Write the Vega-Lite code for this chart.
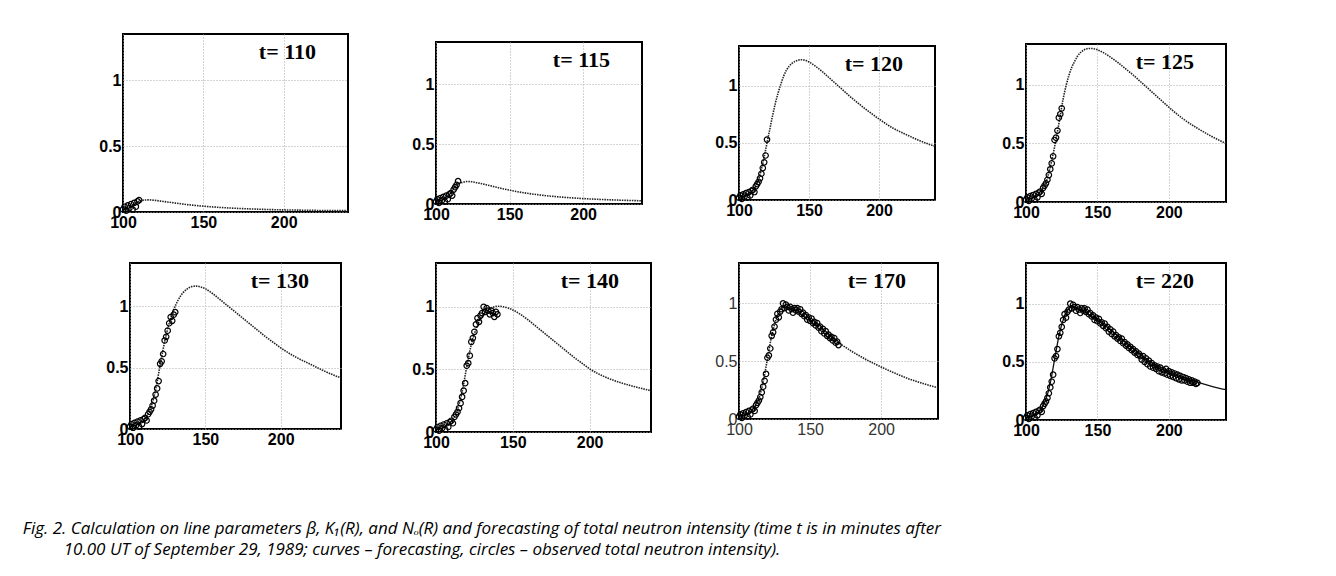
{
"$schema": "https://vega.github.io/schema/vega-lite/v6.json",
"background": "white",
"padding": {"left": 22, "top": 33, "right": 10, "bottom": 10},
"datasets": {
"obs": [
{"t":100,"v":0.02},{"t":101,"v":0.04},{"t":102,"v":0.01},{"t":103,"v":0.05},{"t":104,"v":0.03},{"t":105,"v":0.06},{"t":106,"v":0.02},{"t":107,"v":0.07},{"t":108,"v":0.04},{"t":109,"v":0.08},
{"t":110,"v":0.09},{"t":111,"v":0.07},{"t":112,"v":0.12},{"t":113,"v":0.14},{"t":114,"v":0.16},{"t":115,"v":0.19},{"t":116,"v":0.23},{"t":117,"v":0.28},{"t":118,"v":0.33},{"t":119,"v":0.39},
{"t":120,"v":0.53},{"t":121,"v":0.55},{"t":122,"v":0.61},{"t":123,"v":0.72},{"t":124,"v":0.75},{"t":125,"v":0.80},{"t":126,"v":0.86},{"t":127,"v":0.91},{"t":128,"v":0.88},{"t":129,"v":0.93},
{"t":130,"v":0.95},{"t":131,"v":1.0},{"t":132,"v":0.96},{"t":133,"v":0.99},{"t":134,"v":0.97},{"t":135,"v":0.94},{"t":136,"v":0.97},{"t":137,"v":0.95},{"t":138,"v":0.92},{"t":139,"v":0.96},
{"t":140,"v":0.94},{"t":141,"v":0.96},{"t":142,"v":0.93},{"t":143,"v":0.95},{"t":144,"v":0.91},{"t":145,"v":0.92},{"t":146,"v":0.89},{"t":147,"v":0.90},{"t":148,"v":0.86},{"t":149,"v":0.88},
{"t":150,"v":0.85},{"t":151,"v":0.87},{"t":152,"v":0.83},{"t":153,"v":0.84},{"t":154,"v":0.81},{"t":155,"v":0.83},{"t":156,"v":0.79},{"t":157,"v":0.80},{"t":158,"v":0.76},{"t":159,"v":0.78},
{"t":160,"v":0.74},{"t":161,"v":0.76},{"t":162,"v":0.72},{"t":163,"v":0.73},{"t":164,"v":0.70},{"t":165,"v":0.71},{"t":166,"v":0.68},{"t":167,"v":0.70},{"t":168,"v":0.66},{"t":169,"v":0.67},
{"t":170,"v":0.64},{"t":171,"v":0.65},{"t":172,"v":0.62},{"t":173,"v":0.63},{"t":174,"v":0.60},{"t":175,"v":0.61},{"t":176,"v":0.58},{"t":177,"v":0.59},{"t":178,"v":0.56},{"t":179,"v":0.57},
{"t":180,"v":0.55},{"t":181,"v":0.52},{"t":182,"v":0.55},{"t":183,"v":0.50},{"t":184,"v":0.53},{"t":185,"v":0.48},{"t":186,"v":0.51},{"t":187,"v":0.46},{"t":188,"v":0.49},{"t":189,"v":0.45},
{"t":190,"v":0.47},{"t":191,"v":0.44},{"t":192,"v":0.46},{"t":193,"v":0.42},{"t":194,"v":0.45},{"t":195,"v":0.41},{"t":196,"v":0.43},{"t":197,"v":0.40},{"t":198,"v":0.44},{"t":199,"v":0.39},
{"t":200,"v":0.42},{"t":201,"v":0.38},{"t":202,"v":0.41},{"t":203,"v":0.37},{"t":204,"v":0.40},{"t":205,"v":0.36},{"t":206,"v":0.39},{"t":207,"v":0.35},{"t":208,"v":0.38},{"t":209,"v":0.34},
{"t":210,"v":0.37},{"t":211,"v":0.34},{"t":212,"v":0.36},{"t":213,"v":0.33},{"t":214,"v":0.35},{"t":215,"v":0.32},{"t":216,"v":0.34},{"t":217,"v":0.32},{"t":218,"v":0.33},{"t":219,"v":0.31},
{"t":220,"v":0.32}
],
"fc": [
{"p":110,"t":100,"v":0.005},{"p":110,"t":102,"v":0.015},{"p":110,"t":104,"v":0.03},{"p":110,"t":106,"v":0.05},{"p":110,"t":108,"v":0.07},{"p":110,"t":110,"v":0.082},{"p":110,"t":113,"v":0.09},{"p":110,"t":116,"v":0.092},{"p":110,"t":120,"v":0.088},{"p":110,"t":125,"v":0.08},{"p":110,"t":130,"v":0.072},{"p":110,"t":135,"v":0.064},{"p":110,"t":140,"v":0.056},{"p":110,"t":150,"v":0.044},{"p":110,"t":160,"v":0.035},{"p":110,"t":170,"v":0.028},{"p":110,"t":180,"v":0.023},{"p":110,"t":190,"v":0.019},{"p":110,"t":200,"v":0.016},{"p":110,"t":210,"v":0.014},{"p":110,"t":220,"v":0.012},{"p":110,"t":230,"v":0.011},{"p":110,"t":240,"v":0.01},
{"p":115,"t":100,"v":0.01},{"p":115,"t":103,"v":0.025},{"p":115,"t":106,"v":0.05},{"p":115,"t":109,"v":0.085},{"p":115,"t":112,"v":0.13},{"p":115,"t":115,"v":0.165},{"p":115,"t":118,"v":0.18},{"p":115,"t":121,"v":0.187},{"p":115,"t":124,"v":0.186},{"p":115,"t":127,"v":0.18},{"p":115,"t":130,"v":0.172},{"p":115,"t":135,"v":0.158},{"p":115,"t":140,"v":0.143},{"p":115,"t":145,"v":0.128},{"p":115,"t":150,"v":0.115},{"p":115,"t":160,"v":0.093},{"p":115,"t":170,"v":0.076},{"p":115,"t":180,"v":0.063},{"p":115,"t":190,"v":0.053},{"p":115,"t":200,"v":0.045},{"p":115,"t":210,"v":0.039},{"p":115,"t":220,"v":0.034},{"p":115,"t":230,"v":0.03},{"p":115,"t":240,"v":0.027},
{"p":120,"t":100,"v":0.02},{"p":120,"t":104,"v":0.03},{"p":120,"t":108,"v":0.06},{"p":120,"t":111,"v":0.1},{"p":120,"t":114,"v":0.18},{"p":120,"t":116,"v":0.27},{"p":120,"t":118,"v":0.38},{"p":120,"t":120,"v":0.5},{"p":120,"t":122,"v":0.62},{"p":120,"t":124,"v":0.74},{"p":120,"t":126,"v":0.85},{"p":120,"t":128,"v":0.94},{"p":120,"t":130,"v":1.02},{"p":120,"t":132,"v":1.09},{"p":120,"t":134,"v":1.14},{"p":120,"t":136,"v":1.175},{"p":120,"t":138,"v":1.2},{"p":120,"t":140,"v":1.215},{"p":120,"t":142,"v":1.225},{"p":120,"t":144,"v":1.23},{"p":120,"t":146,"v":1.228},{"p":120,"t":148,"v":1.222},{"p":120,"t":150,"v":1.21},{"p":120,"t":155,"v":1.17},{"p":120,"t":160,"v":1.12},{"p":120,"t":165,"v":1.065},{"p":120,"t":170,"v":1.01},{"p":120,"t":175,"v":0.955},{"p":120,"t":180,"v":0.9},{"p":120,"t":185,"v":0.85},{"p":120,"t":190,"v":0.8},{"p":120,"t":195,"v":0.755},{"p":120,"t":200,"v":0.71},{"p":120,"t":210,"v":0.63},{"p":120,"t":220,"v":0.57},{"p":120,"t":230,"v":0.515},{"p":120,"t":240,"v":0.47},
{"p":125,"t":100,"v":0.02},{"p":125,"t":104,"v":0.03},{"p":125,"t":108,"v":0.06},{"p":125,"t":111,"v":0.1},{"p":125,"t":114,"v":0.17},{"p":125,"t":117,"v":0.3},{"p":125,"t":120,"v":0.47},{"p":125,"t":122,"v":0.6},{"p":125,"t":124,"v":0.74},{"p":125,"t":126,"v":0.88},{"p":125,"t":128,"v":0.99},{"p":125,"t":130,"v":1.08},{"p":125,"t":132,"v":1.15},{"p":125,"t":134,"v":1.2},{"p":125,"t":136,"v":1.245},{"p":125,"t":138,"v":1.275},{"p":125,"t":140,"v":1.295},{"p":125,"t":142,"v":1.307},{"p":125,"t":144,"v":1.312},{"p":125,"t":146,"v":1.312},{"p":125,"t":148,"v":1.308},{"p":125,"t":150,"v":1.3},{"p":125,"t":155,"v":1.27},{"p":125,"t":160,"v":1.23},{"p":125,"t":165,"v":1.185},{"p":125,"t":170,"v":1.135},{"p":125,"t":175,"v":1.085},{"p":125,"t":180,"v":1.03},{"p":125,"t":185,"v":0.975},{"p":125,"t":190,"v":0.92},{"p":125,"t":195,"v":0.865},{"p":125,"t":200,"v":0.81},{"p":125,"t":210,"v":0.71},{"p":125,"t":220,"v":0.63},{"p":125,"t":230,"v":0.56},{"p":125,"t":240,"v":0.5},
{"p":130,"t":100,"v":0.02},{"p":130,"t":104,"v":0.03},{"p":130,"t":108,"v":0.06},{"p":130,"t":111,"v":0.1},{"p":130,"t":114,"v":0.18},{"p":130,"t":117,"v":0.32},{"p":130,"t":120,"v":0.52},{"p":130,"t":123,"v":0.71},{"p":130,"t":126,"v":0.86},{"p":130,"t":129,"v":0.97},{"p":130,"t":132,"v":1.05},{"p":130,"t":135,"v":1.105},{"p":130,"t":138,"v":1.14},{"p":130,"t":141,"v":1.158},{"p":130,"t":144,"v":1.162},{"p":130,"t":147,"v":1.155},{"p":130,"t":150,"v":1.14},{"p":130,"t":155,"v":1.1},{"p":130,"t":160,"v":1.05},{"p":130,"t":165,"v":1.0},{"p":130,"t":170,"v":0.95},{"p":130,"t":175,"v":0.9},{"p":130,"t":180,"v":0.85},{"p":130,"t":185,"v":0.8},{"p":130,"t":190,"v":0.75},{"p":130,"t":195,"v":0.705},{"p":130,"t":200,"v":0.66},{"p":130,"t":210,"v":0.585},{"p":130,"t":220,"v":0.525},{"p":130,"t":230,"v":0.465},{"p":130,"t":240,"v":0.415},
{"p":140,"t":100,"v":0.02},{"p":140,"t":104,"v":0.03},{"p":140,"t":108,"v":0.06},{"p":140,"t":111,"v":0.1},{"p":140,"t":114,"v":0.18},{"p":140,"t":117,"v":0.32},{"p":140,"t":120,"v":0.52},{"p":140,"t":123,"v":0.7},{"p":140,"t":126,"v":0.82},{"p":140,"t":129,"v":0.9},{"p":140,"t":132,"v":0.955},{"p":140,"t":135,"v":0.985},{"p":140,"t":138,"v":1.0},{"p":140,"t":141,"v":1.005},{"p":140,"t":144,"v":1.0},{"p":140,"t":147,"v":0.99},{"p":140,"t":150,"v":0.975},{"p":140,"t":155,"v":0.94},{"p":140,"t":160,"v":0.895},{"p":140,"t":165,"v":0.845},{"p":140,"t":170,"v":0.795},{"p":140,"t":175,"v":0.745},{"p":140,"t":180,"v":0.695},{"p":140,"t":185,"v":0.645},{"p":140,"t":190,"v":0.595},{"p":140,"t":195,"v":0.55},{"p":140,"t":200,"v":0.505},{"p":140,"t":210,"v":0.44},{"p":140,"t":220,"v":0.395},{"p":140,"t":230,"v":0.36},{"p":140,"t":240,"v":0.33},
{"p":170,"t":100,"v":0.02},{"p":170,"t":104,"v":0.03},{"p":170,"t":108,"v":0.06},{"p":170,"t":111,"v":0.1},{"p":170,"t":114,"v":0.18},{"p":170,"t":117,"v":0.32},{"p":170,"t":120,"v":0.52},{"p":170,"t":123,"v":0.72},{"p":170,"t":126,"v":0.86},{"p":170,"t":129,"v":0.94},{"p":170,"t":132,"v":0.975},{"p":170,"t":135,"v":0.97},{"p":170,"t":140,"v":0.935},{"p":170,"t":145,"v":0.895},{"p":170,"t":150,"v":0.855},{"p":170,"t":155,"v":0.81},{"p":170,"t":160,"v":0.76},{"p":170,"t":165,"v":0.71},{"p":170,"t":170,"v":0.66},{"p":170,"t":175,"v":0.62},{"p":170,"t":180,"v":0.58},{"p":170,"t":185,"v":0.545},{"p":170,"t":190,"v":0.51},{"p":170,"t":195,"v":0.48},{"p":170,"t":200,"v":0.45},{"p":170,"t":210,"v":0.395},{"p":170,"t":220,"v":0.345},{"p":170,"t":230,"v":0.305},{"p":170,"t":240,"v":0.27},
{"p":220,"t":100,"v":0.02},{"p":220,"t":104,"v":0.03},{"p":220,"t":108,"v":0.06},{"p":220,"t":111,"v":0.1},{"p":220,"t":114,"v":0.18},{"p":220,"t":117,"v":0.32},{"p":220,"t":120,"v":0.52},{"p":220,"t":123,"v":0.72},{"p":220,"t":126,"v":0.86},{"p":220,"t":129,"v":0.94},{"p":220,"t":132,"v":0.975},{"p":220,"t":135,"v":0.965},{"p":220,"t":140,"v":0.935},{"p":220,"t":145,"v":0.9},{"p":220,"t":150,"v":0.86},{"p":220,"t":155,"v":0.815},{"p":220,"t":160,"v":0.765},{"p":220,"t":165,"v":0.715},{"p":220,"t":170,"v":0.665},{"p":220,"t":175,"v":0.615},{"p":220,"t":180,"v":0.565},{"p":220,"t":185,"v":0.52},{"p":220,"t":190,"v":0.48},{"p":220,"t":195,"v":0.45},{"p":220,"t":200,"v":0.42},{"p":220,"t":205,"v":0.395},{"p":220,"t":210,"v":0.37},{"p":220,"t":215,"v":0.345},{"p":220,"t":220,"v":0.325},{"p":220,"t":230,"v":0.29},{"p":220,"t":240,"v":0.26}
]
},
"title": {"text": "10.00 UT of September 29, 1989; curves – forecasting, circles – observed total neutron intensity).", "orient": "bottom", "anchor": "start", "frame": "bounds", "font": "Open Sans", "fontStyle": "italic", "fontWeight": "normal", "fontSize": 17, "color": "black", "dx": 41, "dy": 0, "offset": 13, "baseline": "middle"},
"vconcat": [
{
"columns": 4,
"spacing": {"row": 51, "column": 88},
"bounds": "flush",
"center": true,
"title": {"text": "Fig. 2. Calculation on line parameters β, K₁(R), and Nₒ(R) and forecasting of total neutron intensity (time t is in minutes after", "orient": "bottom", "anchor": "start", "frame": "bounds", "font": "Open Sans", "fontStyle": "italic", "fontWeight": "normal", "fontSize": 17, "color": "black", "dx": -75, "dy": 0, "offset": 78, "baseline": "middle"},
"concat": [
{"width": 225, "height": 178, "title": {"text": "t= 110"},
 "encoding": {"x": {"field": "t", "type": "quantitative", "scale": {"domain": [100, 240], "nice": false, "zero": false}, "axis": {"values": [100, 150, 200], "title": null}}, "y": {"field": "v", "type": "quantitative", "scale": {"domain": [0, 1.35], "nice": false}, "axis": {"values": [0, 0.5, 1], "format": "~g", "title": null}}},
 "layer": [
  {"data": {"name": "fc"}, "transform": [{"filter": "datum.p == 110"}], "mark": {"type": "line", "interpolate": "monotone", "strokeDash": [1.5, 1], "strokeWidth": 1.6, "color": "#222"}},
  {"data": {"name": "obs"}, "transform": [{"filter": "datum.t <= 110"}], "mark": {"type": "point", "shape": "circle", "filled": false, "color": "black", "size": 30, "strokeWidth": 1.2, "opacity": 1}}
 ]},
{"width": 206, "height": 162, "title": {"text": "t= 115"},
 "encoding": {"x": {"field": "t", "type": "quantitative", "scale": {"domain": [100, 240], "nice": false, "zero": false}, "axis": {"values": [100, 150, 200], "title": null}}, "y": {"field": "v", "type": "quantitative", "scale": {"domain": [0, 1.35], "nice": false}, "axis": {"values": [0, 0.5, 1], "format": "~g", "title": null}}},
 "layer": [
  {"data": {"name": "fc"}, "transform": [{"filter": "datum.p == 115"}], "mark": {"type": "line", "interpolate": "monotone", "strokeDash": [1.5, 1], "strokeWidth": 1.6, "color": "#222"}},
  {"data": {"name": "obs"}, "transform": [{"filter": "datum.t <= 115"}], "mark": {"type": "point", "shape": "circle", "filled": false, "color": "black", "size": 30, "strokeWidth": 1.2, "opacity": 1}}
 ]},
{"width": 196, "height": 154, "title": {"text": "t= 120"},
 "encoding": {"x": {"field": "t", "type": "quantitative", "scale": {"domain": [100, 240], "nice": false, "zero": false}, "axis": {"values": [100, 150, 200], "title": null}}, "y": {"field": "v", "type": "quantitative", "scale": {"domain": [0, 1.35], "nice": false}, "axis": {"values": [0, 0.5, 1], "format": "~g", "title": null}}},
 "layer": [
  {"data": {"name": "fc"}, "transform": [{"filter": "datum.p == 120"}], "mark": {"type": "line", "interpolate": "monotone", "strokeDash": [1.5, 1], "strokeWidth": 1.6, "color": "#222"}},
  {"data": {"name": "obs"}, "transform": [{"filter": "datum.t <= 120"}], "mark": {"type": "point", "shape": "circle", "filled": false, "color": "black", "size": 30, "strokeWidth": 1.2, "opacity": 1}}
 ]},
{"width": 200, "height": 158, "title": {"text": "t= 125"},
 "encoding": {"x": {"field": "t", "type": "quantitative", "scale": {"domain": [100, 240], "nice": false, "zero": false}, "axis": {"values": [100, 150, 200], "title": null}}, "y": {"field": "v", "type": "quantitative", "scale": {"domain": [0, 1.35], "nice": false}, "axis": {"values": [0, 0.5, 1], "format": "~g", "title": null}}},
 "layer": [
  {"data": {"name": "fc"}, "transform": [{"filter": "datum.p == 125"}], "mark": {"type": "line", "interpolate": "monotone", "strokeDash": [1.5, 1], "strokeWidth": 1.6, "color": "#222"}},
  {"data": {"name": "obs"}, "transform": [{"filter": "datum.t <= 125"}], "mark": {"type": "point", "shape": "circle", "filled": false, "color": "black", "size": 30, "strokeWidth": 1.2, "opacity": 1}}
 ]},
{"width": 211, "height": 166, "title": {"text": "t= 130"},
 "encoding": {"x": {"field": "t", "type": "quantitative", "scale": {"domain": [100, 240], "nice": false, "zero": false}, "axis": {"values": [100, 150, 200], "title": null}}, "y": {"field": "v", "type": "quantitative", "scale": {"domain": [0, 1.35], "nice": false}, "axis": {"values": [0, 0.5, 1], "format": "~g", "title": null}}},
 "layer": [
  {"data": {"name": "fc"}, "transform": [{"filter": "datum.p == 130"}], "mark": {"type": "line", "interpolate": "monotone", "strokeDash": [1.5, 1], "strokeWidth": 1.6, "color": "#222"}},
  {"data": {"name": "obs"}, "transform": [{"filter": "datum.t <= 130"}], "mark": {"type": "point", "shape": "circle", "filled": false, "color": "black", "size": 30, "strokeWidth": 1.2, "opacity": 1}}
 ]},
{"width": 215, "height": 169, "title": {"text": "t= 140"},
 "encoding": {"x": {"field": "t", "type": "quantitative", "scale": {"domain": [100, 240], "nice": false, "zero": false}, "axis": {"values": [100, 150, 200], "title": null}}, "y": {"field": "v", "type": "quantitative", "scale": {"domain": [0, 1.35], "nice": false}, "axis": {"values": [0, 0.5, 1], "format": "~g", "title": null}}},
 "layer": [
  {"data": {"name": "fc"}, "transform": [{"filter": "datum.p == 140"}], "mark": {"type": "line", "interpolate": "monotone", "strokeDash": [1.5, 1], "strokeWidth": 1.6, "color": "#222"}},
  {"data": {"name": "obs"}, "transform": [{"filter": "datum.t <= 140"}], "mark": {"type": "point", "shape": "circle", "filled": false, "color": "black", "size": 30, "strokeWidth": 1.2, "opacity": 1}}
 ]},
{"width": 199, "height": 156, "title": {"text": "t= 170"},
 "encoding": {"x": {"field": "t", "type": "quantitative", "scale": {"domain": [100, 240], "nice": false, "zero": false}, "axis": {"values": [100, 150, 200], "title": null, "labelFontWeight": "normal", "labelColor": "#333"}}, "y": {"field": "v", "type": "quantitative", "scale": {"domain": [0, 1.35], "nice": false}, "axis": {"values": [0, 0.5, 1], "format": "~g", "title": null, "labelFontWeight": "normal", "labelColor": "#333"}}},
 "layer": [
  {"data": {"name": "fc"}, "transform": [{"filter": "datum.p == 170"}], "mark": {"type": "line", "interpolate": "monotone", "strokeDash": [1.5, 1], "strokeWidth": 1.6, "color": "#222"}},
  {"data": {"name": "obs"}, "transform": [{"filter": "datum.t <= 170"}], "mark": {"type": "point", "shape": "circle", "filled": false, "color": "black", "size": 30, "strokeWidth": 1.2, "opacity": 1}}
 ]},
{"width": 200, "height": 157, "title": {"text": "t= 220"},
 "encoding": {"x": {"field": "t", "type": "quantitative", "scale": {"domain": [100, 240], "nice": false, "zero": false}, "axis": {"values": [100, 150, 200], "title": null}}, "y": {"field": "v", "type": "quantitative", "scale": {"domain": [0, 1.35], "nice": false}, "axis": {"values": [0, 0.5, 1], "format": "~g", "title": null}}},
 "layer": [
  {"data": {"name": "fc"}, "transform": [{"filter": "datum.p == 220"}], "mark": {"type": "line", "interpolate": "monotone", "strokeWidth": 1.3, "color": "#111"}},
  {"data": {"name": "obs"}, "transform": [{"filter": "datum.t <= 220"}], "mark": {"type": "point", "shape": "circle", "filled": false, "color": "black", "size": 30, "strokeWidth": 1.2, "opacity": 1}}
 ]}
]
}
],
"config": {
 "view": {"stroke": "black", "strokeWidth": 2},
 "axis": {"labelFont": "Liberation Sans", "labelFontWeight": "bold", "labelFontSize": 16, "labelColor": "black", "domain": false, "ticks": false, "labelPadding": 2, "labelFlush": false, "gridColor": "#a8a8a8", "gridDash": [1, 2], "gridWidth": 1, "gridOpacity": 1},
 "title": {"font": "Liberation Serif", "fontWeight": "bold", "fontSize": 22, "color": "black", "anchor": "end", "frame": "group", "offset": -19, "dy": 11, "dx": -32, "baseline": "middle", "orient": "top"}
}
}
